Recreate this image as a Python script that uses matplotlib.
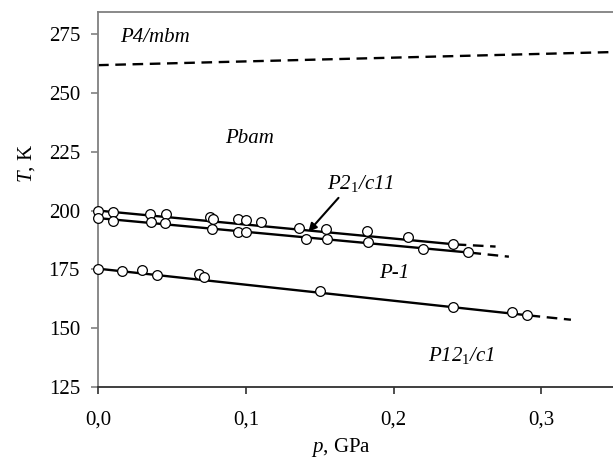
import numpy as np
import matplotlib
matplotlib.use("Agg")
import matplotlib.pyplot as plt

plt.rcParams['font.family'] = ['Liberation Serif', 'DejaVu Serif']
plt.rcParams['mathtext.fontset'] = 'custom'
plt.rcParams['mathtext.rm'] = 'Liberation Serif'
plt.rcParams['mathtext.it'] = 'Liberation Serif:italic'

# measured points, p in GPa, T in K
p_upper = [0.000, 0.010, 0.035, 0.046, 0.076, 0.078, 0.095, 0.100, 0.110, 0.136, 0.154, 0.182, 0.210, 0.240]
T_upper = [199.9, 199.2, 198.6, 198.4, 197.2, 196.4, 196.3, 196.0, 195.2, 192.7, 192.0, 191.3, 188.9, 185.6]

p_middle = [0.000, 0.010, 0.036, 0.045, 0.077, 0.095, 0.100, 0.141, 0.155, 0.183, 0.220, 0.250]
T_middle = [196.7, 195.7, 195.0, 194.6, 192.3, 190.9, 190.9, 188.1, 187.9, 186.5, 183.6, 182.2]

p_lower = [0.000, 0.016, 0.030, 0.040, 0.068, 0.072, 0.150, 0.240, 0.280, 0.290]
T_lower = [175.1, 174.4, 174.6, 172.5, 172.9, 171.6, 165.8, 159.1, 156.9, 155.6]

# phase boundaries: solid part and dashed extrapolation
upper_solid = ([0.0, 0.242], [200.0, 185.6])
upper_dash = ([0.242, 0.269], [185.6, 184.7])
middle_solid = ([0.0, 0.252], [196.8, 182.1])
middle_dash = ([0.252, 0.278], [182.1, 180.4])
lower_solid = ([0.0, 0.292], [175.3, 155.4])
lower_dash = ([0.292, 0.320], [155.4, 153.6])
tetra_dash = ([0.0, 0.35], [261.8, 267.4])

labels = ["P4/mbm", "Pbam", r"P2$_{\mathit{1}}$/c11", "P-1", r"P12$_{\mathit{1}}$/c1"]
label_x = [0.015, 0.086, 0.155, 0.190, 0.223]
label_y = [273.7, 230.8, 211.7, 173.3, 138.6]

fig = plt.figure(figsize=(6.13, 4.65), dpi=100)
ax = fig.add_axes([0.160, 0.1677, 0.8437, 0.8065])

lw = 1.7
for xs, ys in [upper_solid, middle_solid, lower_solid]:
    ax.plot(xs, ys, color='black', lw=lw, zorder=2)
for xs, ys in [upper_dash, middle_dash, lower_dash, tetra_dash]:
    ax.plot(xs, ys, color='black', lw=lw, dashes=(4.5, 2.8), zorder=2)

for px, py in [(p_upper, T_upper), (p_middle, T_middle), (p_lower, T_lower)]:
    ax.plot(px, py, 'o', ms=7, mfc='white', mec='black', mew=0.9,
            zorder=3, clip_on=False)

for t, x, y in zip(labels, label_x, label_y):
    ax.text(x, y, t, fontsize=15, style='italic', va='center', ha='left')

ax.annotate("", xy=(0.1423, 191.0), xytext=(0.1627, 205.4),
            arrowprops=dict(arrowstyle='-|>', color='black', lw=1.5,
                            mutation_scale=12, shrinkA=0, shrinkB=0))

ax.set_xlim(0, 0.35)
ax.set_ylim(125, 284.4)
ax.set_xticks([0.0, 0.1, 0.2, 0.3])
ax.set_xticklabels(["0,0", "0,1", "0,2", "0,3"])
ax.set_yticks(np.arange(125, 276, 25))

ax.spines['right'].set_visible(False)
for s in ['left', 'top']:
    ax.spines[s].set_color('#808080')
    ax.spines[s].set_linewidth(1.3)
ax.spines['bottom'].set_color('#303030')
ax.spines['bottom'].set_linewidth(1.3)

ax.tick_params(axis='y', direction='out', length=5, width=1.2, color='#808080',
               labelsize=15, pad=8)
ax.tick_params(axis='x', direction='out', length=5, width=1.2, color='#303030',
               labelsize=15, pad=12)

ax.set_xlabel("$\\mathit{p}$, GPa", fontsize=15, va='center')
ax.xaxis.set_label_coords(0.47, -0.16)
ax.set_ylabel("$\\mathit{T}$, K", fontsize=15, va='center')
ax.yaxis.set_label_coords(-0.138, 0.597)

fig.savefig("out.png", dpi=100)
